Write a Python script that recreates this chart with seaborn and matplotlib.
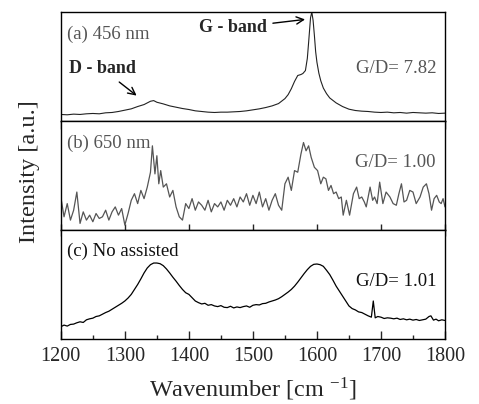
"""
Espectros Raman empilhados (a) 456 nm, (b) 650 nm, (c) sem assistencia.
"""

import matplotlib
matplotlib.use("Agg")
import matplotlib.pyplot as plt
import pandas as pd
import seaborn as sns

# --- dados (intensidade em unidades arbitrarias) ---
wn_a = [1200, 1210, 1220, 1230, 1240, 1250, 1260, 1270, 1280, 1290,
        1300, 1310, 1320, 1330, 1340, 1345, 1350, 1360, 1370, 1380,
        1390, 1400, 1410, 1420, 1430, 1440, 1450, 1460, 1470, 1480,
        1490, 1500, 1510, 1520, 1530, 1540, 1550, 1555, 1560, 1565,
        1570, 1575, 1578, 1582, 1585, 1587, 1590, 1592, 1594, 1596,
        1598, 1600, 1603, 1606, 1610, 1615, 1620, 1630, 1640, 1650,
        1660, 1670, 1680, 1690, 1700, 1710, 1720, 1730, 1740, 1750,
        1760, 1770, 1780, 1790, 1800]
int_a = [20, 19, 21, 20, 22, 23, 22, 25, 26, 29,
         33, 37, 44, 50, 60, 62, 57, 52, 46, 42,
         38, 35, 31, 29, 27, 26, 27, 27, 28, 29,
         31, 34, 37, 41, 46, 53, 68, 80, 98, 120,
         138, 141, 144, 153, 190, 238, 313, 330, 305, 260,
         210, 178, 145, 122, 100, 83, 70, 55, 44, 36,
         32, 30, 29, 27, 26, 27, 25, 26, 24, 26,
         25, 24, 25, 23, 24]

wn_b = [1200, 1205, 1210, 1215, 1220, 1225, 1230, 1235, 1240, 1245,
        1250, 1255, 1260, 1265, 1270, 1275, 1280, 1285, 1290, 1295,
        1300, 1305, 1310, 1315, 1320, 1325, 1330, 1335, 1340, 1343,
        1347, 1350, 1353, 1356, 1360, 1365, 1370, 1375, 1380, 1385,
        1390, 1395, 1400, 1405, 1410, 1415, 1420, 1425, 1430, 1435,
        1440, 1445, 1450, 1455, 1460, 1465, 1470, 1475, 1480, 1485,
        1490, 1495, 1500, 1505, 1510, 1515, 1520, 1525, 1530, 1535,
        1540, 1545, 1550, 1555, 1560, 1565, 1570, 1575, 1579, 1583,
        1587, 1591, 1596, 1601, 1606, 1610, 1614, 1618, 1622, 1626,
        1630, 1634, 1638, 1641, 1646, 1651, 1657, 1662, 1666, 1670,
        1674, 1677, 1683, 1687, 1690, 1694, 1698, 1703, 1708, 1714,
        1719, 1724, 1728, 1732, 1736, 1740, 1745, 1750, 1755, 1761,
        1766, 1771, 1775, 1779, 1783, 1787, 1791, 1794, 1797, 1800]
int_b = [100, 40, 80, 30, 60, 115, 20, 55, 30, 45,
         25, 50, 35, 40, 60, 30, 55, 70, 45, 65,
         15, 50, 90, 110, 80, 120, 95, 130, 175, 255,
         170, 225, 140, 180, 130, 140, 100, 120, 70, 40,
         30, 80, 65, 95, 60, 85, 75, 60, 90, 55,
         80, 70, 85, 60, 90, 75, 95, 70, 100, 85,
         110, 75, 105, 80, 115, 70, 95, 60, 90, 110,
         75, 60, 140, 160, 120, 180, 175, 230, 265, 240,
         255, 220, 190, 180, 140, 160, 155, 120, 135, 110,
         115, 95, 100, 45, 90, 45, 110, 130, 95, 100,
         85, 70, 130, 90, 100, 80, 145, 80, 115, 100,
         80, 75, 110, 140, 85, 90, 120, 115, 80, 100,
         130, 140, 110, 60, 95, 105, 85, 80, 95, 70]

wn_c = [1200, 1205, 1210, 1215, 1220, 1225, 1230, 1235, 1240, 1245,
        1250, 1255, 1260, 1265, 1270, 1275, 1280, 1285, 1290, 1295,
        1300, 1305, 1310, 1315, 1320, 1325, 1330, 1335, 1340, 1345,
        1350, 1355, 1360, 1365, 1370, 1375, 1380, 1385, 1390, 1395,
        1400, 1405, 1410, 1415, 1420, 1425, 1430, 1435, 1440, 1445,
        1450, 1455, 1460, 1465, 1470, 1475, 1480, 1485, 1490, 1495,
        1500, 1505, 1510, 1515, 1520, 1525, 1530, 1535, 1540, 1545,
        1550, 1555, 1560, 1565, 1570, 1575, 1580, 1585, 1590, 1595,
        1600, 1605, 1610, 1615, 1620, 1625, 1630, 1635, 1640, 1645,
        1650, 1655, 1660, 1665, 1670, 1675, 1680, 1685, 1688, 1691,
        1695, 1700, 1705, 1710, 1715, 1720, 1725, 1730, 1735, 1740,
        1745, 1750, 1755, 1760, 1765, 1770, 1775, 1778, 1782, 1786,
        1790, 1795, 1800]
int_c = [37, 42, 39, 44, 45, 49, 52, 50, 58, 61,
         63, 68, 70, 75, 80, 84, 90, 96, 102, 108,
         115, 124, 135, 150, 165, 182, 200, 215, 225, 230,
         230, 228, 222, 212, 200, 187, 175, 162, 150, 140,
         135, 125, 115, 110, 106, 108, 102, 104, 100, 98,
         101, 96, 95, 99, 94, 97, 95, 98, 100, 96,
         102, 104, 103, 107, 108, 112, 115, 118, 122, 128,
         135, 142, 150, 160, 172, 185, 198, 210, 220, 226,
         227, 225, 220, 208, 195, 178, 160, 145, 130, 115,
         100, 92, 88, 82, 80, 75, 70, 66, 115, 64,
         68, 66, 62, 64, 63, 61, 63, 59, 61, 58,
         60, 57, 59, 56, 58, 60, 68, 70, 57, 60,
         55, 58, 56]

ROTULOS = ["(a) 456 nm", "(b) 650 nm", "(c) No assisted"]
RAZOES = ["G/D= 7.82", "G/D= 1.00", "G/D= 1.01"]

sns.set_style("ticks")
plt.rcParams["font.family"] = ["Liberation Serif", "DejaVu Serif"]
plt.rcParams["mathtext.fontset"] = "stix"

fig, eixos = plt.subplots(3, 1, figsize=(4.79, 4.04), dpi=100, sharex=True)
fig.subplots_adjust(left=0.127, right=0.929, top=0.970, bottom=0.161, hspace=0)

series = [(wn_a, int_a, "#222222", 0.8),
          (wn_b, int_b, "#555555", 0.9),
          (wn_c, int_c, "#000000", 0.9)]

for ax, (wn, inten, cor, lw) in zip(eixos, series):
    df = pd.DataFrame({"wavenumber": wn, "intensity": inten})
    sns.lineplot(data=df, x="wavenumber", y="intensity", ax=ax,
                 color=cor, linewidth=lw, legend=False)
    ax.set_ylim(0, 330)
    ax.set_yticks([])
    ax.set_ylabel("")
    ax.set_xlabel("")
    for sp in ax.spines.values():
        sp.set_visible(True)
        sp.set_linewidth(1.0)
        sp.set_color("black")

ax_a, ax_b, ax_c = eixos
ax_c.set_xlim(1200, 1800)
ax_c.set_xticks(range(1200, 1801, 100))
ax_c.set_xticks(range(1250, 1800, 100), minor=True)

# ticks de cada painel como no original
ax_a.tick_params(axis="x", which="major", direction="out", length=6, width=1, labelbottom=False)
ax_a.tick_params(axis="x", which="minor", length=0)
ax_b.tick_params(axis="x", which="major", direction="inout", length=8, width=1, labelbottom=False)
ax_b.tick_params(axis="x", which="minor", direction="out", length=3, width=1)
ax_c.tick_params(axis="x", which="major", direction="in", length=6, width=1,
                 labelsize=14.5, pad=6)
ax_c.tick_params(axis="x", which="minor", direction="in", length=3, width=1)

cores_texto = ["#555555", "#555555", "#111111"]
pos_razao = [(0.979, 0.482), (0.974, 0.624), (0.977, 0.528)]
for ax, rot, raz, cor, (xr, yr) in zip(eixos, ROTULOS, RAZOES, cores_texto, pos_razao):
    ax.text(0.016, 0.80, rot, transform=ax.transAxes, ha="left", va="center",
            fontsize=13.5, color=cor)
    ax.text(xr, yr, raz, transform=ax.transAxes, ha="right", va="center",
            fontsize=13.5, color=cor)

ax_a.annotate("G - band", xy=(0.643, 0.936), xytext=(0.448, 0.855),
              xycoords="axes fraction", textcoords="axes fraction",
              ha="center", va="center", fontsize=13, fontweight="bold",
              arrowprops=dict(arrowstyle="->", color="black", lw=1))
ax_a.annotate("D - band", xy=(0.203, 0.218), xytext=(0.107, 0.482),
              xycoords="axes fraction", textcoords="axes fraction",
              ha="center", va="center", fontsize=13, fontweight="bold",
              arrowprops=dict(arrowstyle="->", color="black", lw=1))

ax_c.set_xlabel(r"Wavenumber [cm $^{\mathregular{-1}}$]", fontsize=17.5, labelpad=7)
fig.text(0.062, 0.574, "Intensity [a.u.]", rotation=90, ha="center", va="center",
         fontsize=17.5)

fig.savefig("out.png", dpi=100)
plt.close(fig)
